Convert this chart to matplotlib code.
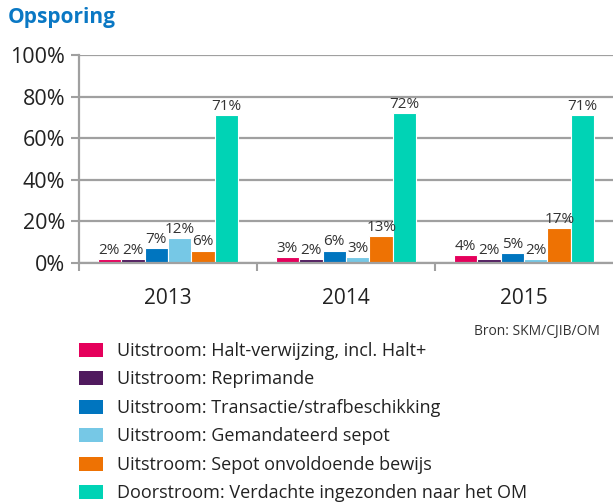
import numpy as np
import matplotlib
matplotlib.use("Agg")
import matplotlib.pyplot as plt
from matplotlib.patches import Patch

plt.rcParams['font.family'] = ['Open Sans', 'DejaVu Sans']

years = ["2013", "2014", "2015"]
series = [
    "Uitstroom: Halt-verwijzing, incl. Halt+",
    "Uitstroom: Reprimande",
    "Uitstroom: Transactie/strafbeschikking",
    "Uitstroom: Gemandateerd sepot",
    "Uitstroom: Sepot onvoldoende bewijs",
    "Doorstroom: Verdachte ingezonden naar het OM",
]
values = [
    [2, 3, 4],
    [2, 2, 2],
    [7, 6, 5],
    [12, 3, 2],
    [6, 13, 17],
    [71, 72, 71],
]
colors = ["#E5005B", "#501A5E", "#0075BF", "#76C8E6", "#EE7203", "#00D3B5"]

fig = plt.figure(figsize=(6.13, 5.04), dpi=100)
ax = fig.add_axes([79 / 613, 1 - 263 / 504, 1 - 79 / 613, (263 - 55) / 504])

x = np.arange(len(years))
w = 0.132
for i, (name, vals) in enumerate(zip(series, values)):
    pos = x + (i - 2.5) * w
    ax.bar(pos, vals, width=w, color=colors[i], edgecolor="white", linewidth=0.8,
           label=name, zorder=3)
    for p, v in zip(pos, vals):
        ax.text(p, v + 0.5, f"{v}%", ha="center", va="bottom", fontsize=11,
                color="#333333", zorder=4)

ax.set_xlim(-0.5, 2.5)
ax.set_ylim(0, 100)
ax.set_yticks(np.arange(0, 101, 20))
ax.set_yticklabels([f"{t}%" for t in range(0, 101, 20)], fontsize=15.5, color="#222222")
ax.yaxis.grid(True, color="#A0A0A0", linewidth=1.6, zorder=0)
ax.set_xticks(x)
ax.set_xticklabels(years, fontsize=15, color="#222222")
ax.set_xticks([-0.5, 0.5, 1.5], minor=True)
ax.tick_params(axis="x", which="major", length=0, pad=18)
ax.tick_params(axis="x", which="minor", length=6, width=1.5, color="#A0A0A0")
ax.tick_params(axis="y", length=6, width=1.5, color="#A0A0A0", pad=4)
for s in ["top", "right"]:
    ax.spines[s].set_visible(False)
for s in ["left", "bottom"]:
    ax.spines[s].set_color("#A0A0A0")
    ax.spines[s].set_linewidth(1.6)
ax.spines["bottom"].set_zorder(5)

fig.text(8 / 613, 1 - 18 / 504, "Opsporing", fontsize=15, fontweight="bold",
         color="#0A78C4", ha="left", va="center")
fig.text(600 / 613, 1 - 331 / 504, "Bron: SKM/CJIB/OM", fontsize=10,
         color="#333333", ha="right", va="center")

handles = [Patch(facecolor=c, edgecolor="none") for c in colors]
fig.legend(handles, series, loc="upper left", bbox_to_anchor=(70 / 613, 1 - 333 / 504),
           frameon=False, fontsize=13, labelspacing=0.58, handlelength=1.33,
           handleheight=0.83, handletextpad=0.8, borderpad=0, labelcolor="#222222")

fig.savefig("out.png", dpi=100)
